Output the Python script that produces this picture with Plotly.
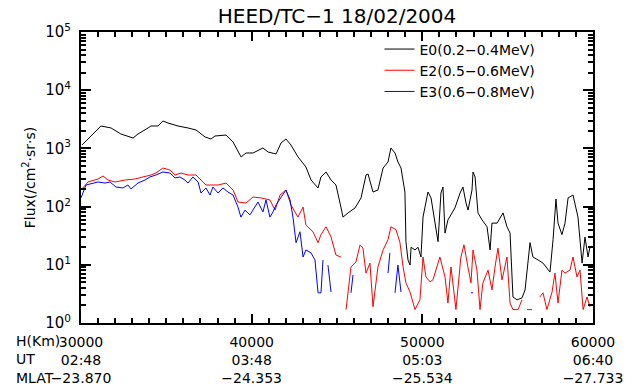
import plotly.graph_objects as go

# ---- data (altitude H in km, flux in /cm^2.sr.s) ----
e0_km = [30060, 31170, 31760, 32340, 33050, 33340, 33930, 34100, 34510, 34800,
         35100, 35680, 36270, 36740, 37270, 37620, 37850, 38500, 38910, 39380,
         39670, 40080, 40660, 40960, 41430, 41720, 42010, 42300, 42720, 43180,
         43480, 43890, 44060, 44360, 44650, 44940, 45230, 45350, 45650, 46060,
         46410, 46700, 46820, 47110, 47400, 47700, 47990, 48160, 48400, 48570,
         48750, 48980, 49040, 49160, 49280, 49340, 49570, 49750, 49920, 50040,
         50330, 50510, 50920, 51090, 51210, 51330, 51500, 51910, 52210, 52380,
         52560, 52680, 52910, 52970, 53090, 53260, 53500, 53790, 53970, 54080,
         54380, 54730, 54960, 55140, 55310, 55550, 55840, 56020, 56310, 56480,
         56780, 57070, 57480, 57660, 57830, 57950, 58180, 58360, 58540, 58830,
         59120, 59240, 59360, 59530, 59710, 59820]
e0_flux = [1143, 2427, 2243, 1767, 1509, 1767, 2243, 2427, 2427, 2957,
           2731, 2427, 2243, 2070, 1570, 1451, 1633, 1698, 1289, 712,
           834, 834, 1016, 867, 802, 1239, 1451, 1143, 712, 479,
           286, 209, 323, 393, 286, 235, 98, 66, 78, 95,
           141, 349, 363, 178, 193, 460, 584, 1016, 834, 584,
           460, 178, 25, 12.1, 9.9, 20, 18, 20, 13.6, 66,
           178, 141, 25, 171, 217, 35, 59, 95, 171, 217,
           115, 87, 193, 393, 323, 78, 59, 45, 18, 52,
           52, 78, 45, 35, 2.8, 2.5, 2.7, 3.7, 24, 13.6,
           12.1, 10.7, 7.5, 27, 135, 52, 33, 52, 141, 158,
           66, 24, 10.7, 30, 13.6, 20]

e2_km = [30000, 30410, 31000, 31290, 31580, 31990, 32580, 33160, 33630, 34100,
         34390, 34800, 35210, 35510, 35860, 36270, 36740, 37150, 37320, 37730,
         38030, 38500, 38910, 39200, 39670, 40080, 40550, 41070, 41370, 41660,
         42010, 42300, 42710, 43010, 43180, 43590, 43890, 44060, 44360, 44650,
         44940, 45230, 45400, 45530, 45820, 46110, 46350, 46520, 46700, 46930,
         47110, 47400, 47700, 47990, 48160, 48460, 48690, 48870, 49040, 49280,
         49570, 49860, 50040, 50210, 50450, 50620, 51030, 51330, 51500, 51680,
         51970, 52260, 52440, 52670, 52850, 52970, 53200, 53380, 53550, 53850,
         54080, 54260, 54430, 54670, 54960, 55140, 55310, 55610, 55840, 56000,
         56130, 56430, 56650, 56890, 57070, 57300, 57600, 57770, 57950, 58180,
         58360, 58650, 58830, 59060, 59240, 59420, 59650, 59820]
e2_flux = [193, 265, 298, 336, 286, 265, 286, 298, 323, 349,
           378, 460, 425, 349, 378, 349, 349, 265, 235, 235,
           235, 254, 193, 120, 115, 146, 141, 130, 87, 158,
           193, 107, 66, 98, 48, 37, 24, 33, 45, 30,
           14.7, 13.6, None, 1.7, 9.2, 11.2, 22, 19.4, 7.2, 10.7,
           1.9, 9.2, 18, 27, 45, 40, 24, 9.2, 4.9, 3.4,
           1.7, 2.5, 13.6, 6.2, 5.1, 5.5, 13.6, 6.2, 2.2, 9.2,
           1.7, 13.6, 22, 9.2, 4.9, 18, 8.1, 1.7, 4.9, 8.1,
           3.7, 9.2, 19.4, 5.5, 13.6, 2.2, 1.7, 1.7, 2.5, None,
           1.7, 1.7, None, 2.8, 3.3, 1.7, 3.4, 7.2, 2.2, 8.1,
           7.2, 8.1, 13.6, 6.2, 8.1, 1.7, 2.8, 1.9]

e3_km = [30000, 30290, 31000, 31410, 31700, 32050, 32460, 32750, 32930, 33340,
         33750, 34040, 34390, 34800, 35210, 35510, 35800, 36090, 36270, 36560,
         36860, 37030, 37320, 37560, 37730, 38030, 38320, 38610, 38910, 39200,
         39370, 39610, 39900, 40200, 40370, 40660, 40840, 41070, 41250, 41430,
         41720, 42010, 42250, 42420, 42600, 42830, 43010, 43180, 43480, 43710,
         43890, 44060, 44180, 44300, 44470, 44650, 45200, 45820, 45940, 46500,
         47990, 48100, 48250, 48400, 48570, 48750, 50000, 52850, 52970]
e3_flux = [141, 235, 265, 254, 265, 217, 209, 235, 201, 254,
           286, 323, 349, 393, 378, 310, 323, 286, 254, 323,
           265, 171, 209, 158, 217, 171, 209, 178, 158, 98,
           66, 87, 72, 98, 120, 81, 130, 66, 81, 107,
           146, 193, 130, 66, 24, 37, 13.6, 18, 16, 12.1,
           3.3, 3.3, 12.1, None, 9.9, 3.4, None, 3.3, 6.7, None,
           7.2, 16, None, 3.3, 9.9, 3.4, None, 3.3, 3.3]

x_label_vals = [30000, 40000, 50000, 60000]
x_label_text = ["30000<br>02:48<br>\u221223.870",
                "40000<br>03:48<br>\u221224.353",
                "50000<br>05:03<br>\u221225.534",
                "60000<br>06:40<br>\u221227.733"]
x_mid_ticks = [35000, 45000, 55000]
y_tickvals = [1, 10, 100, 1000, 10000, 100000]
y_ticktext = ["10<sup>0</sup>", "10<sup>1</sup>", "10<sup>2</sup>",
              "10<sup>3</sup>", "10<sup>4</sup>", "10<sup>5</sup>"]
row_labels = ["H(Km)", "UT", "MLAT"]

series = [
    ("E0(0.2\u22120.4MeV)", e0_km, e0_flux, "#000000"),
    ("E2(0.5\u22120.6MeV)", e2_km, e2_flux, "#ff0000"),
    ("E3(0.6\u22120.8MeV)", e3_km, e3_flux, "#0000ff"),
]

FONT = "DejaVu Sans"

fig = go.Figure()
for name, xs, ys, col in series:
    fig.add_trace(go.Scatter(x=xs, y=ys, mode="lines", name=name,
                             line=dict(color=col, width=1),
                             connectgaps=False))

fig.update_layout(
    width=635, height=386,
    margin=dict(l=81, r=42, t=32, b=63, autoexpand=False),
    paper_bgcolor="white", plot_bgcolor="white",
    font=dict(family=FONT, size=14, color="black"),
    title=dict(text="HEED/TC\u22121 18/02/2004", xref="paper", x=0.5,
               xanchor="center", y=0.958, yanchor="middle",
               font=dict(family=FONT, size=20, color="black")),
    showlegend=True,
    legend=dict(x=0.583, y=0.995, xanchor="left", yanchor="top",
                bgcolor="rgba(0,0,0,0)", borderwidth=0,
                font=dict(family=FONT, size=14, color="black"),
                itemwidth=30, tracegroupgap=0),
    xaxis=dict(
        range=[30000, 60000], showgrid=False, zeroline=False, automargin=False,
        showline=True, linecolor="black", linewidth=2, mirror="allticks",
        ticks="inside", ticklen=9, tickwidth=2, tickcolor="black",
        tickmode="array", tickvals=x_label_vals, ticktext=x_label_text,
        ticklabelstandoff=5,
        tickfont=dict(family=FONT, size=14, color="black"),
        minor=dict(ticks="inside", ticklen=5, tickwidth=1.5, tickcolor="black",
                   dtick=1000, showgrid=False),
    ),
    xaxis2=dict(
        overlaying="x", anchor="y", side="bottom",
        range=[30000, 60000], showgrid=False, zeroline=False, automargin=False,
        showline=False, mirror="ticks",
        ticks="inside", ticklen=9, tickwidth=2, tickcolor="black",
        tickmode="array", tickvals=x_mid_ticks, showticklabels=False,
    ),
    yaxis=dict(
        type="log", range=[0, 5], showgrid=False, zeroline=False, automargin=False,
        showline=True, linecolor="black", linewidth=2, mirror="allticks",
        ticks="inside", ticklen=10, tickwidth=2, tickcolor="black",
        tickmode="array", tickvals=y_tickvals, ticktext=y_ticktext,
        ticklabelstandoff=5,
        tickfont=dict(family=FONT, size=15, color="black"),
        minor=dict(ticks="inside", ticklen=5, tickwidth=1.5, tickcolor="black",
                   dtick="D1", showgrid=False),
        title=dict(text="Flux(/cm<sup>2</sup>\u00b7sr\u00b7s)", standoff=6,
                   font=dict(family=FONT, size=14, color="black")),
    ),
)

label_y = [-0.062, -0.125, -0.188]
for txt, yy in zip(row_labels, label_y):
    fig.add_annotation(text=txt, xref="paper", yref="paper",
                       x=-0.131, y=yy, xanchor="left", yanchor="middle",
                       showarrow=False,
                       font=dict(family=FONT, size=14, color="black"))

# remove the browser's default 8px page margin so the figure fills the window
fig.write_html("out.html",
               config={"displayModeBar": False},
               post_script="document.body.style.margin='0';")
